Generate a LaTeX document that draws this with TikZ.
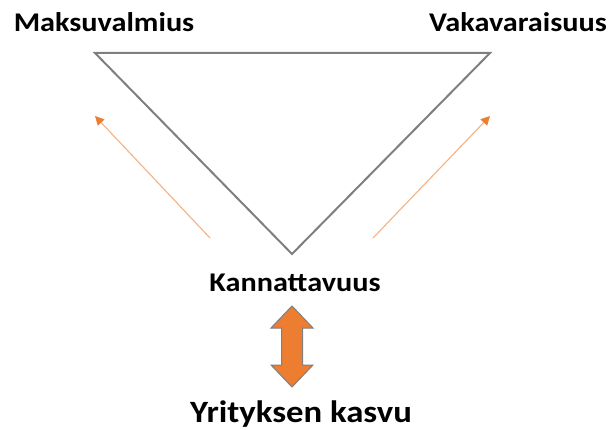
\documentclass[tikz,border=0pt]{standalone}
\usepackage{fontspec}
\setmainfont{Carlito}
\newfontfamily\labelfont[FakeStretch=1.12]{Carlito}
\usetikzlibrary{arrows.meta}
\definecolor{frame}{HTML}{7F7F7F}
\definecolor{accent}{HTML}{ED7D31}
\definecolor{accentlight}{HTML}{F4B183}
\begin{document}
\begin{tikzpicture}[x=1pt,y=-1pt,
  label/.style={font=\labelfont\bfseries\fontsize{27}{32}\selectfont, inner sep=0pt, anchor=base},
  biglabel/.style={font=\labelfont\bfseries\fontsize{31}{36}\selectfont, inner sep=0pt, anchor=base},
  trend/.style={draw=accentlight, line width=1.1pt, -{Triangle[length=9pt,width=9pt,fill=accent,color=accent]}}]
  \useasboundingbox (0,0) rectangle (609,430);
  % corners of the triangle
  \coordinate (tl) at (95,53);
  \coordinate (tr) at (490,53);
  \coordinate (bt) at (292,254);
  \draw[frame, line width=2pt, line join=miter] (tl) -- (tr) -- (bt) -- cycle;
  % labels
  \node[label] (maks) at (104,32) {Maksuvalmius};
  \node[label] (vaka) at (518,32) {Vakavaraisuus};
  \node[label] (kann) at (295,291) {Kannattavuus};
  \node[biglabel] (kasvu) at (301,422) {Yrityksen kasvu};
  % trend arrows
  \coordinate (ls) at (210,238);
  \coordinate (le) at (95,116);
  \coordinate (rs) at (373,238);
  \coordinate (re) at (490,116);
  \draw[trend] (ls) -- (le);
  \draw[trend] (rs) -- (re);
  % double-headed block arrow between profitability and growth
  \draw[fill=accent, draw=frame, line width=1pt, line join=miter]
    (292,306) -- (313,328) -- (302.5,328) -- (302.5,365) -- (313,365)
    -- (292,387) -- (271,365) -- (281.5,365) -- (281.5,328) -- (271,328) -- cycle;
\end{tikzpicture}
\end{document}
